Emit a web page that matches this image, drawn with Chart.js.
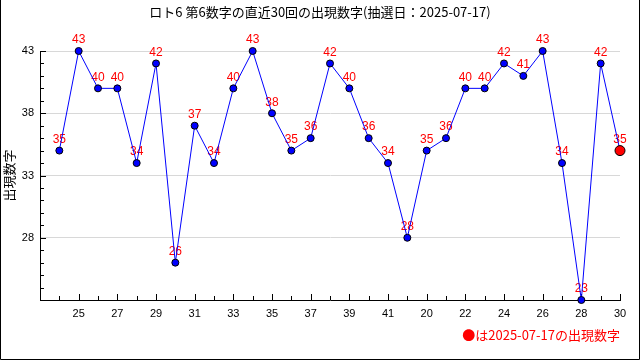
<!DOCTYPE html>
<html>
<head>
<meta charset="utf-8">
<script src="https://cdn.jsdelivr.net/npm/chart.js@4"></script>
<style>
  html, body { margin: 0; padding: 0; background: #fff; }
  canvas { display: block; }
</style>
</head>
<body>
<canvas id="myChart" width="640" height="360"></canvas>
<script>
// draw numbers on the x axis (last two digits), oldest first
const drawLabels = ['24','25','26','27','28','29','30','31','32','33','34','35','36','37','38','39','40','41','42',
                    '20','21','22','23','24','25','26','27','28','29','30'];
// 6th number of each draw
const values = [35,43,40,40,34,42,26,37,34,40,43,38,35,36,42,40,36,34,28,35,36,40,40,42,41,43,34,23,42,35];
const yLabelTicks = [28, 33, 38, 43];
const yMin = 23;
const yMax = 43;

const titleText = 'ロト6 第6数字の直近30回の出現数字(抽選日：2025-07-17)';
const noteText = '●は2025-07-17の出現数字';

const lastIdx = values.length - 1;
const points = values.map((v, i) => ({ x: i, y: v }));

// little tick marks pointing into the plot, plus the outer frame
const tickMarks = {
  id: 'tickMarks',
  beforeDatasetsDraw(chart) {
    const ctx = chart.ctx;
    const area = chart.chartArea;
    const xs = chart.scales.x;
    const ys = chart.scales.y;
    ctx.save();
    ctx.strokeStyle = '#000';
    ctx.lineWidth = 1;
    ctx.beginPath();
    for (let v = yMin; v <= yMax; v++) {
      const py = Math.round(ys.getPixelForValue(v)) + 0.5;
      const len = yLabelTicks.includes(v) ? 6 : 4;
      ctx.moveTo(area.left, py);
      ctx.lineTo(area.left + len, py);
    }
    for (let i = 0; i < values.length; i++) {
      const px = Math.round(xs.getPixelForValue(i)) + 0.5;
      const len = i % 2 === 1 ? 6 : 4;
      ctx.moveTo(px, area.bottom);
      ctx.lineTo(px, area.bottom - len);
    }
    ctx.stroke();

    // red numbers above the points (drawn under the line)
    const meta = chart.getDatasetMeta(0);
    ctx.fillStyle = '#ff0000';
    ctx.font = '12px "Liberation Sans", Arial, sans-serif';
    ctx.textAlign = 'center';
    ctx.textBaseline = 'middle';
    meta.data.forEach((pt, i) => {
      ctx.fillText(String(values[i]), pt.x, pt.y - 11);
    });
    ctx.restore();
  },
  afterDraw(chart) {
    const ctx = chart.ctx;
    ctx.save();
    ctx.strokeStyle = '#000';
    ctx.lineWidth = 1;
    ctx.beginPath();
    ctx.moveTo(0.5, 0);
    ctx.lineTo(0.5, 359.5);
    ctx.lineTo(639.5, 359.5);
    ctx.lineTo(639.5, 0);
    ctx.stroke();
    ctx.restore();
  }
};

const ctx = document.getElementById('myChart').getContext('2d');
new Chart(ctx, {
  type: 'line',
  data: {
    datasets: [{
      data: points,
      clip: false,
      borderColor: '#0000ff',
      borderWidth: 1,
      tension: 0,
      pointRadius: values.map((v, i) => i === lastIdx ? 5 : 3.5),
      pointBackgroundColor: values.map((v, i) => i === lastIdx ? '#ff0000' : '#0000ff'),
      pointBorderColor: '#000',
      pointBorderWidth: 1
    }]
  },
  options: {
    responsive: false,
    animation: false,
    devicePixelRatio: 1,
    layout: { padding: { left: 20, right: 20, top: 0, bottom: 0 } },
    plugins: {
      legend: { display: false },
      tooltip: { enabled: false },
      title: {
        display: true,
        text: titleText,
        color: '#000',
        font: { family: '"Noto Sans CJK JP"', size: 13, weight: 'normal' },
        padding: { top: 4, bottom: 31.4 }
      },
      subtitle: {
        display: true,
        text: noteText,
        position: 'bottom',
        align: 'end',
        color: '#ff0000',
        font: { family: '"Noto Sans CJK JP"', size: 13, weight: 'normal' },
        padding: { top: 7.2, bottom: 17.2 }
      }
    },
    scales: {
      x: {
        type: 'linear',
        min: -1,
        max: lastIdx,
        afterFit(scale) { scale.height = 20; },
        grid: { display: false, drawTicks: false },
        border: { color: '#000', width: 1 },
        ticks: {
          stepSize: 1,
          autoSkip: false,
          maxRotation: 0,
          padding: 7,
          color: '#000',
          font: { family: '"Liberation Sans", Arial, sans-serif', size: 11 },
          callback: v => (v >= 0 && v % 2 === 1) ? drawLabels[v] : ''
        }
      },
      y: {
        min: yMin,
        max: yMax,
        afterFit(scale) { scale.width = 20; },
        grid: {
          drawTicks: false,
          color: c => yLabelTicks.includes(c.tick.value) ? '#d8d8d8' : 'rgba(0,0,0,0)'
        },
        border: { color: '#000', width: 1 },
        title: {
          display: true,
          text: '出現数字',
          color: '#000',
          font: { family: '"Noto Sans CJK JP"', size: 13, weight: 'normal' },
          padding: { top: -19, bottom: 0 }
        },
        ticks: {
          stepSize: 1,
          autoSkip: false,
          padding: 6,
          color: '#000',
          font: { family: '"Liberation Sans", Arial, sans-serif', size: 11 },
          callback: v => yLabelTicks.includes(v) ? String(v) : ''
        }
      }
    }
  },
  plugins: [tickMarks]
});
</script>
</body>
</html>
